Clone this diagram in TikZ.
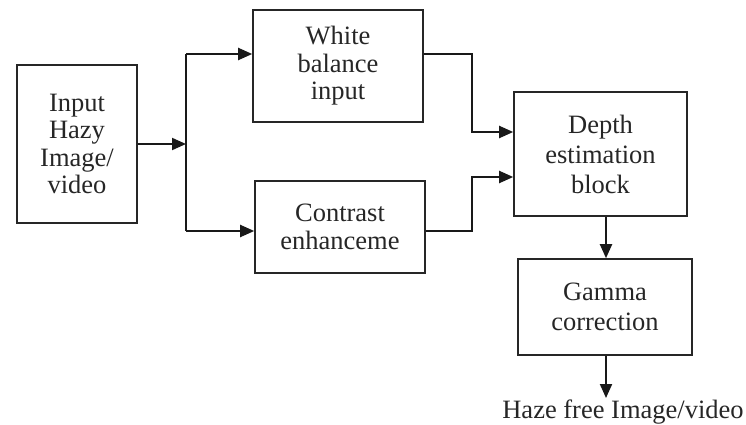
\documentclass[tikz,border=0pt]{standalone}
\usepackage{fontspec}
\setmainfont{Liberation Serif}
\usetikzlibrary{arrows.meta}
\begin{document}
\begin{tikzpicture}[x=1pt,y=-1pt,
  blk/.style={draw=black!85, line width=1.6pt, rectangle, inner sep=0pt, align=center,
    text=black!85, font=\fontsize{26.5}{30}\selectfont},
  tight/.style={font=\fontsize{26.5}{27.5}\selectfont},
  arr/.style={draw=black!90, line width=2pt, -{Triangle[length=14pt,width=12pt]}},
  ln/.style={draw=black!90, line width=2pt}]
\useasboundingbox (0,0) rectangle (746,425);
\node[blk, tight, minimum width=120pt, minimum height=158pt] (inp) at (77,144) {Input\\Hazy\\Image/\\video};
\node[blk, tight, minimum width=170pt, minimum height=112pt] (wb) at (338,66) {White\\balance\\input};
\node[blk, tight, minimum width=170pt, minimum height=92pt] (con) at (340,227) {Contrast\\enhanceme};
\node[blk, minimum width=173pt, minimum height=124pt] (dep) at (600.5,154) {Depth\\estimation\\block};
\node[blk, minimum width=174pt, minimum height=96pt] (gam) at (605,307) {Gamma\\correction};
\node[inner sep=1pt, text=black!85, font=\fontsize{26.5}{30}\selectfont, anchor=base] (out) at (623,418) {Haze free Image/video};
\coordinate (j) at (186,144);
\coordinate (jt) at (186,54);
\coordinate (jb) at (186,231);
\coordinate (a1) at (472,132);
\coordinate (a2) at (472,177);
\draw[arr] (inp.east |- j) -- (j);
\draw[ln] (jt) -- (jb);
\draw[arr] (jt) -- (jt -| wb.west);
\draw[arr] (jb) -- (jb -| con.west);
\draw[arr] (wb.east |- jt) -| (a1) -- (a1 -| dep.west);
\draw[arr] (con.east |- jb) -| (a2) -- (a2 -| dep.west);
\draw[arr] (dep.south -| 606,0) -- (gam.north -| 606,0);
\draw[arr] (gam.south -| 606,0) -- (606,398);
\end{tikzpicture}
\end{document}
